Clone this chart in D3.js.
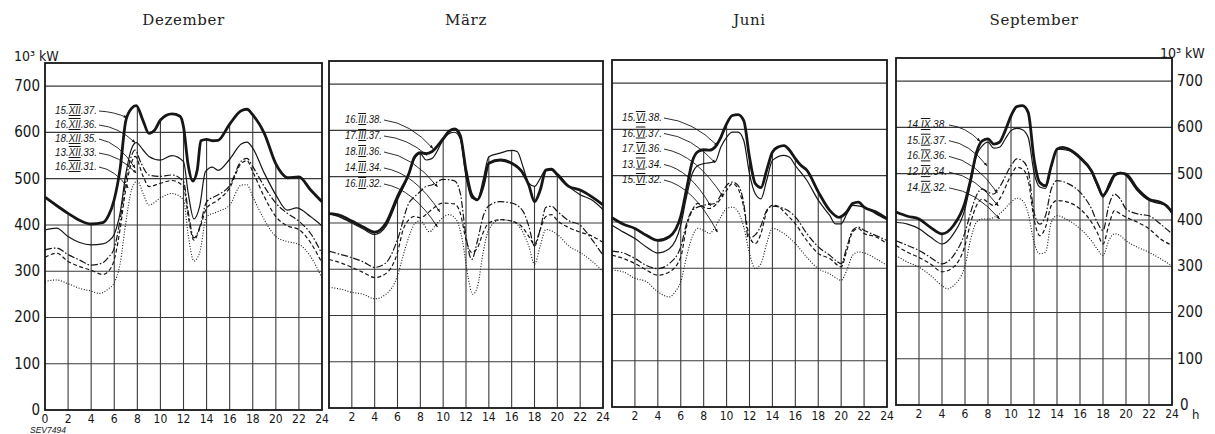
<!DOCTYPE html>
<html><head><meta charset="utf-8">
<script src="https://cdn.jsdelivr.net/npm/d3@7"></script>
<style>body{margin:0;background:#fff}svg{display:block}</style>
</head><body>
<svg id="c" width="1215" height="434"></svg>
<script>
// ---------- data ----------
const months = ["Dezember", "März", "Juni", "September"];
const hourTicks = [0,2,4,6,8,10,12,14,16,18,20,22,24];
const valueTicks = [0,100,200,300,400,500,600,700];
const unitLabel = "10³ kW";

// Dezember
const dez37 = [[0,460],[1,442],[2,425],[3,410],[4,402],[5,405],[5.5,420],[6,455],[6.5,520],[7,625],[7.5,652],[7.9,658],[8.5,625],[9,598],[9.5,605],[10,627],[11,640],[11.7,635],[12,612],[12.4,530],[12.8,495],[13.2,520],[13.5,582],[14,585],[14.5,582],[15,583],[16,618],[17,647],[17.5,650],[18,638],[19,598],[20,532],[20.5,512],[21,502],[22,504],[23,476],[24,450]];
const dez36 = [[0,389],[1,393],[2,375],[3,362],[4,357],[5,359],[5.5,365],[6,380],[6.5,425],[7,510],[7.5,565],[7.9,578],[8.5,562],[9,548],[10,540],[11,550],[12,537],[12.4,470],[12.9,413],[13.4,440],[13.9,515],[14.5,525],[15,518],[16,542],[17,575],[17.5,579],[18,566],[19,512],[20,465],[21,432],[21.8,437],[23,418],[24,398]];
const dez35 = [[0,346],[1,350],[2,336],[3,324],[4,313],[5,318],[5.5,330],[6,350],[6.5,410],[7,495],[7.5,550],[7.8,562],[8.3,535],[9,508],[10,505],[11,508],[12,494],[12.4,430],[12.9,372],[13.4,395],[14,450],[15,465],[16,485],[17,538],[17.5,544],[18,526],[19,483],[20,447],[21,425],[22,408],[23,382],[24,337]];
const dez33 = [[0,330],[1,339],[2,321],[3,310],[4,302],[5,293],[5.5,300],[6,325],[6.5,390],[7,478],[7.5,535],[7.8,548],[8.5,505],[9,483],[10,490],[11,496],[12,483],[12.4,420],[12.9,367],[13.4,392],[14,436],[15,454],[16,480],[17,533],[17.5,539],[18,515],[19,461],[20,418],[21,398],[22,390],[23,362],[24,318]];
const dez31 = [[0,278],[1,281],[2,273],[3,263],[4,257],[4.7,252],[5.5,262],[6,275],[6.5,315],[7,405],[7.5,476],[8,495],[8.5,468],[9,443],[10,458],[11,468],[12,454],[12.4,380],[12.9,322],[13.4,340],[14,418],[15,429],[16,443],[17,486],[17.5,487],[18,461],[19,411],[20,375],[21,364],[22,358],[23,332],[24,285]];
const dezLabels = ["15.XII.37.","16.XII.36.","18.XII.35.","13.XII.33.","16.XII.31."];
const dezTargets = [[7.1,632],[7.8,578],[7.8,523],[7.9,512],[7.2,480]];

// März
const mar38 = [[0,420],[1,416],[2,404],[3,391],[4,380],[5,400],[6,457],[7,507],[7.5,543],[8,552],[8.5,550],[9,554],[10,582],[10.5,598],[11,603],[11.5,589],[12,514],[12.5,461],[13,450],[13.5,479],[14,529],[15,536],[16,529],[17,507],[17.5,482],[18,446],[18.5,471],[19,514],[19.5,516],[20,504],[21,479],[22,471],[23,457],[24,439]];
const mar37 = [[0,420],[1,412],[2,400],[3,387],[4,375],[5,393],[6,450],[7,504],[7.5,539],[8,550],[8.5,536],[9,539],[10,579],[10.5,593],[11,596],[11.5,582],[12,500],[12.5,454],[13,450],[13.5,493],[14,543],[15,551],[16,557],[16.5,554],[17,521],[17.5,486],[18,479],[18.5,496],[19,516],[20,507],[21,479],[22,461],[23,450],[24,429]];
const mar36 = [[0,339],[1,332],[2,325],[3,316],[4,304],[5,314],[6,364],[7,443],[7.5,457],[8,468],[8.5,479],[9,482],[10,494],[11,491],[11.5,464],[12,371],[12.5,321],[13,361],[13.5,414],[14,437],[15,446],[16,443],[17,425],[17.5,393],[18,350],[18.5,386],[19,434],[19.5,436],[20,425],[21,405],[22,395],[23,365],[24,330]];
const mar34 = [[0,321],[1,314],[2,304],[3,293],[4,282],[5,291],[6,336],[6.5,386],[7,407],[7.5,414],[8,411],[8.5,418],[9,429],[10,443],[11,441],[11.5,421],[12,364],[12.5,336],[13,346],[13.5,379],[14,400],[15,407],[16,404],[17,389],[17.5,371],[18,354],[18.5,386],[19,414],[19.5,418],[20,405],[21,390],[22,380],[23,372],[24,358]];
const mar32 = [[0,261],[1,257],[2,250],[3,246],[4,236],[5,246],[6,286],[6.5,330],[7,370],[7.5,398],[8,405],[8.8,381],[9.5,400],[10.5,418],[11.2,405],[11.7,360],[12.2,280],[12.6,246],[13,262],[13.5,336],[14,386],[15,407],[16,404],[17,379],[17.5,350],[18,311],[18.5,350],[19,386],[20,375],[21,350],[22,336],[23,318],[24,295]];
const marLabels = ["16.III.38.","17.III.37.","18.III.36.","14.III.34.","16.III.32."];
const marTargets = [[9.1,561],[8.6,546],[9.5,478],[9.7,424],[9.5,391]];

// Juni
const jun38 = [[0,409],[1,395],[2,386],[3,371],[4,360],[5,368],[6,412],[6.5,470],[7,530],[7.5,552],[8,556],[8.5,555],[9,562],[9.5,583],[10,612],[10.5,630],[11,632],[11.5,619],[12,540],[12.5,483],[13,474],[13.5,512],[14,551],[14.5,562],[15,565],[15.5,555],[16,537],[16.5,522],[17,512],[18,465],[19,425],[19.8,410],[20.5,422],[21,440],[21.5,443],[22,432],[23,422],[24,407]];
const jun37 = [[0,393],[1,378],[2,364],[3,346],[4,333],[5,342],[6,393],[6.5,454],[7,504],[7.5,522],[8,526],[9,530],[9.5,562],[10,583],[10.5,594],[11,594],[11.5,576],[12,504],[12.5,461],[13,450],[13.5,490],[14,533],[15,544],[15.5,540],[16,522],[17,490],[18,447],[19,414],[19.5,396],[20,396],[20.5,418],[21,436],[22,432],[23,418],[24,405]];
const jun36 = [[0,337],[1,333],[2,321],[3,306],[4,299],[5,310],[6,346],[6.5,396],[7,425],[8,436],[9,440],[9.5,458],[10,479],[10.5,486],[11,479],[11.5,440],[11.9,365],[12.5,372],[13,392],[13.5,425],[14,434],[15,429],[16,411],[17,375],[18,346],[19,328],[19.5,317],[20,310],[20.5,346],[21,382],[21.5,389],[22,382],[23,371],[24,360]];
const jun34 = [[0,328],[1,321],[2,310],[3,296],[4,285],[5,292],[6,324],[6.5,389],[7,425],[7.5,440],[8,432],[8.5,429],[9,436],[10,468],[10.5,483],[11,472],[11.5,432],[12,368],[12.5,353],[13,375],[13.5,422],[14,436],[14.5,434],[15,422],[16,396],[17,360],[18,332],[19,321],[20,303],[20.5,339],[21,378],[21.5,386],[22,375],[23,368],[24,353]];
const jun32 = [[0,296],[1,292],[2,278],[3,271],[4,249],[5,238],[5.5,249],[6,271],[6.5,324],[7,368],[7.5,386],[8,382],[8.5,375],[9,389],[9.5,411],[10,429],[10.5,432],[11,422],[11.5,389],[12,332],[12.5,299],[13,310],[13.5,353],[14,386],[15,375],[16,353],[17,324],[18,299],[19,288],[20,274],[20.5,296],[21,328],[21.5,335],[22,333],[23,321],[24,306]];
const junLabels = ["15.VI.38.","16.VI.37.","17.VI.36.","13.VI.34.","15.VI.32."];
const junTargets = [[9.2,565],[9.0,528],[9.7,454],[8.6,435],[9.2,378]];

// September
const sep38 = [[0,417],[1,408],[2,402],[3,384],[4,370],[5,388],[6,438],[6.5,488],[7,546],[7.5,571],[8,575],[8.5,564],[9,568],[9.5,593],[10,625],[10.5,645],[11,647],[11.5,632],[12,532],[12.5,481],[13,474],[13.5,517],[14,553],[14.5,557],[15,553],[16,535],[17,506],[17.5,478],[18,453],[18.5,471],[19,496],[19.5,501],[20,499],[21,467],[22,445],[23,438],[23.5,431],[24,417]];
const sep37 = [[0,395],[1,391],[2,381],[3,363],[4,348],[5,370],[6,424],[6.5,481],[7,539],[7.5,560],[8,568],[8.5,555],[9,557],[9.5,575],[10,593],[10.5,598],[11,595],[11.5,578],[12,503],[12.5,471],[13,468],[13.5,514],[14,553],[15,550],[16,532],[17,503],[17.5,474],[18,449],[18.5,478],[19,499],[19.5,503],[20,496],[21,463],[22,442],[23,435],[23.5,431],[24,413]];
const sep36 = [[0,355],[1,345],[2,334],[3,319],[4,305],[5,323],[6,373],[6.5,417],[7,453],[7.5,467],[8,460],[8.5,456],[9,471],[10,517],[10.5,532],[11,528],[11.5,506],[12,417],[12.5,391],[13,409],[13.5,467],[14,485],[14.5,483],[15,478],[16,460],[17,424],[17.5,395],[18,377],[18.5,431],[19,456],[19.5,445],[20,424],[21,413],[22,409],[23,391],[24,370]];
const sep34 = [[0,345],[1,330],[2,319],[3,305],[4,288],[5,298],[6,345],[6.5,395],[7,431],[7.5,445],[8,438],[8.5,431],[9,445],[10,496],[10.5,514],[11,510],[11.5,485],[12,402],[12.5,366],[13,384],[13.5,431],[14,442],[15,438],[16,424],[17,395],[17.5,373],[18,348],[18.5,388],[19,420],[19.5,413],[20,406],[21,395],[22,381],[23,359],[24,345]];
const sep32 = [[0,323],[1,309],[2,298],[3,280],[4,258],[4.5,251],[5,258],[6,301],[6.5,359],[7,395],[7.5,402],[8,402],[9,413],[10,438],[10.5,447],[11,442],[11.5,413],[12,352],[12.5,327],[13,330],[13.5,395],[14,409],[15,399],[16,381],[17,355],[17.5,337],[18,323],[18.5,355],[19,370],[19.5,366],[20,355],[21,341],[22,330],[23,316],[24,301]];
const sepLabels = ["14.IX.38.","15.IX.37.","16.IX.36.","12.IX.34.","14.IX.32."];
const sepTargets = [[7.3,570],[7.9,517],[8.8,459],[8.9,430],[9.0,402]];

// ---------- layout / style ----------
const layout = [
  {x0:45,  x1:322,  b:410, lx:55,  ly:114, ls:14.0, tl:42},
  {x0:329, x1:603,  b:408, lx:345, ly:123, ls:16.0, tl:37},
  {x0:612, x1:887,  b:407, lx:622, ly:121, ls:15.5, tl:40},
  {x0:896, x1:1172, b:405, lx:907, ly:128, ls:15.7, tl:40}
];
const PX_PER_UNIT = 347/750;
const seriesStyle = [
  {w:2.8, dash:null},
  {w:1.2, dash:null},
  {w:1.2, dash:"7,2,1.6,2"},
  {w:1.2, dash:"4,2.5"},
  {w:1.1, dash:"1,1.7"}
];
const ink = "#161616";

const panels = [
  {title:months[0], series:[dez37,dez36,dez35,dez33,dez31], labels:dezLabels, targets:dezTargets},
  {title:months[1], series:[mar38,mar37,mar36,mar34,mar32], labels:marLabels, targets:marTargets},
  {title:months[2], series:[jun38,jun37,jun36,jun34,jun32], labels:junLabels, targets:junTargets},
  {title:months[3], series:[sep38,sep37,sep36,sep34,sep32], labels:sepLabels, targets:sepTargets}
];

function interp(s, h){
  for (let i=0;i<s.length-1;i++){
    if (h>=s[i][0] && h<=s[i+1][0]){
      const t=(h-s[i][0])/(s[i+1][0]-s[i][0]);
      return s[i][1]+t*(s[i+1][1]-s[i][1]);
    }
  }
  return s[s.length-1][1];
}

const svg = d3.select("#c");
svg.append("defs").append("marker")
  .attr("id","arr").attr("viewBox","0 0 6 6").attr("refX",5.5).attr("refY",3)
  .attr("markerWidth",4).attr("markerHeight",4).attr("orient","auto")
  .append("path").attr("d","M0,0.5L6,3L0,5.5Z").attr("fill",ink);

const numFont = "'DejaVu Sans Condensed','Liberation Sans Narrow','DejaVu Sans',sans-serif";

panels.forEach((p, pi) => {
  const L = layout[pi];
  const x = d3.scaleLinear().domain([0,24]).range([L.x0, L.x1]);
  const y = d3.scaleLinear().domain([0,750]).range([L.b, L.b - 750*PX_PER_UNIT]);
  const g = svg.append("g");

  // horizontal grid
  g.selectAll("line.h").data(valueTicks.filter(v=>v>0)).enter().append("line")
    .attr("x1",L.x0).attr("x2",L.x1).attr("y1",d=>y(d)).attr("y2",d=>y(d))
    .attr("stroke","#3a3a3a").attr("stroke-width",1.1);
  // vertical grid, drawn up to the upper envelope of the curves
  g.selectAll("line.v").data(hourTicks.filter(h=>h>0&&h<24)).enter().append("line")
    .attr("x1",d=>x(d)).attr("x2",d=>x(d)).attr("y1",y(0))
    .attr("y2",d=>y(d3.max(p.series, s=>interp(s,d))))
    .attr("stroke","#3a3a3a").attr("stroke-width",1.1);

  // curves
  const line = d3.line().x(d=>x(d[0])).y(d=>y(d[1])).curve(d3.curveMonotoneX);
  p.series.slice().reverse().forEach((s, ri) => {
    const st = seriesStyle[p.series.length-1-ri];
    g.append("path").attr("d", line(s)).attr("fill","none")
      .attr("stroke", ink).attr("stroke-width", st.w)
      .attr("stroke-dasharray", st.dash).attr("stroke-linejoin","round");
  });

  // frame
  g.append("rect").attr("x",L.x0).attr("y",y(750)).attr("width",L.x1-L.x0).attr("height",y(0)-y(750))
    .attr("fill","none").attr("stroke",ink).attr("stroke-width",1.8);

  // title
  svg.append("text").attr("x",(L.x0+L.x1)/2).attr("y",25).attr("text-anchor","middle")
    .attr("font-family","'DejaVu Serif','Liberation Serif',serif").attr("font-size",15)
    .attr("letter-spacing",0.6).attr("fill","#222").text(p.title);

  // x tick labels
  g.selectAll("text.xt").data(pi===0 ? hourTicks : hourTicks.slice(1)).enter().append("text")
    .attr("x",d=>x(d)).attr("y",L.b+13).attr("text-anchor","middle")
    .attr("font-family",numFont).attr("font-size",12).attr("fill",ink).text(d=>d);

  // date labels + leaders
  p.labels.forEach((lab, i) => {
    const ly = L.ly + i*L.ls;
    const m = lab.match(/^(\d+\.)([IVX]+)(\..*)$/);
    const t = g.append("text").attr("x",L.lx).attr("y",ly)
      .attr("font-family","'Liberation Sans','DejaVu Sans',sans-serif").attr("font-style","italic")
      .attr("font-size",10).attr("fill",ink)
      .attr("textLength",L.tl).attr("lengthAdjust","spacingAndGlyphs");
    t.append("tspan").text(m[1]);
    t.append("tspan").attr("text-decoration","underline overline").text(m[2]);
    t.append("tspan").text(m[3]);
    const sx = L.lx + L.tl + 2, sy = ly - 3;
    const tx = x(p.targets[i][0]), ty = y(p.targets[i][1]);
    const cx = sx + (tx-sx)*0.55, cy = sy + (ty-sy)*0.12;
    g.append("path").attr("d",`M${sx},${sy}Q${cx},${cy} ${tx},${ty}`)
      .attr("fill","none").attr("stroke",ink).attr("stroke-width",0.9)
      .attr("marker-end","url(#arr)");
  });
});

// y-axis labels (left uses first panel, right uses last panel)
const yl = d3.scaleLinear().domain([0,750]).range([layout[0].b, layout[0].b-750*PX_PER_UNIT]);
const yr = d3.scaleLinear().domain([0,750]).range([layout[3].b, layout[3].b-750*PX_PER_UNIT]);
svg.selectAll("text.yl").data(valueTicks).enter().append("text")
  .attr("x",40).attr("y",d=>yl(d)+5).attr("text-anchor","end")
  .attr("font-family",numFont).attr("font-size",15).attr("fill",ink).text(d=>d);
svg.selectAll("text.yr").data(valueTicks).enter().append("text")
  .attr("x",d=>d===0?1180:1177).attr("y",d=>yr(d)+5).attr("text-anchor","start")
  .attr("font-family",numFont).attr("font-size",15).attr("fill",ink).text(d=>d);
svg.append("text").attr("x",1192).attr("y",yr(0)+14).attr("font-family",numFont)
  .attr("font-size",13).attr("fill",ink).text("h");
svg.append("text").attr("x",14).attr("y",61).attr("font-family",numFont)
  .attr("font-size",14).attr("fill",ink).text(unitLabel);
svg.append("text").attr("x",1160).attr("y",58).attr("font-family",numFont)
  .attr("font-size",14).attr("fill",ink).text(unitLabel);
svg.append("text").attr("x",30).attr("y",433).attr("font-family","'Liberation Sans',sans-serif")
  .attr("font-style","italic").attr("font-size",8.5).attr("fill",ink).text("SEV7494");
</script>
</body></html>
